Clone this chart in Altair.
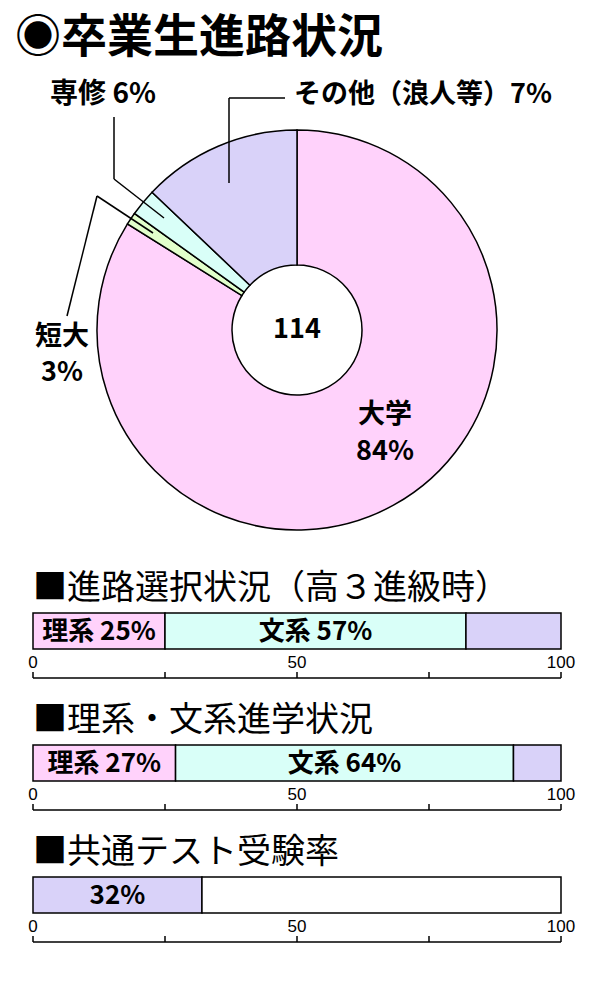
import altair as alt
import pandas as pd

# pie: shares as drawn and the printed labels
pie_cats = ["大学", "短大", "専修", "その他"]
pie_share = [83.9, 1.0, 2.2, 12.9]
total_label = "114"

# bar sections
sec_titles = ["■進路選択状況（高３進級時）", "■理系・文系進学状況", "■共通テスト受験率"]
sec_cats = [["理系", "文系", "その他"], ["理系", "文系", "その他"], ["受験", "未受験"]]
sec_vals = [[25, 57, 18], [27, 64, 9], [32, 68]]
sec_labels = [["理系 25%", "文系 57%", ""], ["理系 27%", "文系 64%", ""], ["32%", ""]]
ticks = [0, 25, 50, 75, 100]
tick_labels = [0, 50, 100]

palette_dom = ["大学", "短大", "専修", "その他", "理系", "文系", "受験", "未受験"]
palette_rng = ["#ffd2fb", "#e2ffcb", "#d9fff8", "#d9d2f9",
               "#ffd2fb", "#d9fff8", "#d9d2f9", "#ffffff"]

JP = "Noto Sans CJK JP"
color = alt.Color("cat:N", scale=alt.Scale(domain=palette_dom, range=palette_rng), legend=None)
one = pd.DataFrame({"k": [0]})


def txt(s, x, y, size=27, weight="bold", align="center"):
    return alt.Chart(one).mark_text(text=s, font=JP, fontSize=size, fontWeight=weight,
                                    align=align, baseline="middle", color="black").encode(
        x=alt.value(x), y=alt.value(y))


def seg(x1, y1, x2, y2):
    return alt.Chart(one).mark_rule(color="black", strokeWidth=1.5).encode(
        x=alt.value(x1), y=alt.value(y1), x2=alt.value(x2), y2=alt.value(y2))


# donut
pie_df = pd.DataFrame({"cat": pie_cats, "share": pie_share, "ord": range(len(pie_cats))})
arc = alt.Chart(pie_df).mark_arc(radius=200, radius2=65, stroke="black", strokeWidth=1.5).encode(
    theta=alt.Theta("share:Q", stack=True),
    order=alt.Order("ord:Q"),
    color=color,
    x=alt.value(289), y=alt.value(322),
)

pie = alt.layer(
    arc,
    txt("◉卒業生進路状況", 7, 30, size=46, align="left"),
    seg(221, 90, 277, 90), seg(221, 90, 221, 175),
    seg(106, 109, 106, 171), seg(106, 171, 156, 210),
    seg(59, 308, 89, 188), seg(89, 188, 145, 225),
    txt("専修 6%", 95, 87, size=28),
    txt("その他（浪人等）7%", 286, 87, align="left"),
    txt("短大", 54, 329), txt("3%", 54, 365),
    txt("大学", 377, 407), txt("84%", 377, 444),
    txt(total_label, 289, 322),
).properties(width=584, height=540)


def section(i):
    vals = sec_vals[i]
    ends = list(pd.Series(vals).cumsum())
    df = pd.DataFrame({"cat": sec_cats[i],
                       "start": [e - v for e, v in zip(ends, vals)],
                       "end": ends,
                       "label": sec_labels[i]})
    xs = alt.Scale(domain=[0, 100], range=[25, 553])
    bars = alt.Chart(df).mark_bar(stroke="black", strokeWidth=1.5).encode(
        x=alt.X("start:Q", scale=xs, axis=None),
        x2="end:Q",
        y=alt.value(65), y2=alt.value(101),
        color=color,
    )
    labels = alt.Chart(df).transform_calculate(
        mid="(datum.start + datum.end) / 2"
    ).mark_text(font=JP, fontSize=26, fontWeight="bold", color="black", baseline="middle").encode(
        x=alt.X("mid:Q", scale=xs, axis=None),
        y=alt.value(84),
        text="label:N",
    )
    # axis drawn below the bar: baseline, upward ticks, labels above
    base = alt.Chart(pd.DataFrame({"lo": [ticks[0]], "hi": [ticks[-1]]})).mark_rule(
        color="black", strokeWidth=1.5).encode(
        x=alt.X("lo:Q", scale=xs, axis=None), x2="hi:Q", y=alt.value(130))
    tk = alt.Chart(pd.DataFrame({"v": ticks})).mark_rule(color="black", strokeWidth=1.5).encode(
        x=alt.X("v:Q", scale=xs, axis=None), y=alt.value(124), y2=alt.value(130))
    tl = alt.Chart(pd.DataFrame({"v": tick_labels})).mark_text(
        font="Liberation Sans", fontSize=17, color="black", baseline="middle").encode(
        x=alt.X("v:Q", scale=xs, axis=None), y=alt.value(115), text="v:Q")
    title = txt(sec_titles[i], 25, 41, size=34, weight="normal", align="left")
    return alt.layer(bars, labels, base, tk, tl, title).properties(width=584, height=132)


chart = alt.vconcat(pie, section(0), section(1), section(2), spacing=0).resolve_scale(
    color="independent"
).properties(padding=0).configure_view(stroke=None)

chart.save("out.html", embed_options={"renderer": "svg", "actions": False})
